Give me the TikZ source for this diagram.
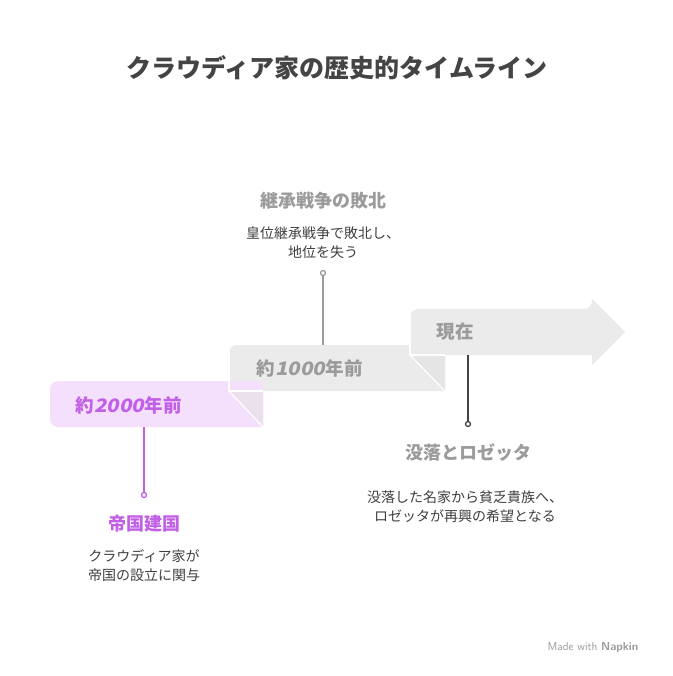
\documentclass[tikz,border=0pt]{standalone}
\usepackage{fontspec}
\setmainfont{Noto Sans CJK JP}
\newfontfamily\slantdigits[FakeSlant=0.2, FakeStretch=1.12]{Noto Sans CJK JP}
\tikzset{
    bandtext/.style={font=\bfseries\fontsize{18.5}{20}\selectfont, anchor=west},
    headtext/.style={font=\bfseries\fontsize{18}{20}\selectfont},
    desctext/.style={font=\fontsize{14}{19}\selectfont, align=center, text=black!75},
    stemdot/.style={circle, draw, line width=1.3pt, fill=white, inner sep=0pt, minimum size=5pt}
}
\definecolor{violetband}{HTML}{F4DFFC}
\definecolor{violetfold}{HTML}{EAE1EC}
\definecolor{violettext}{HTML}{C15FE6}
\definecolor{grayband}{HTML}{EBEBEB}
\definecolor{grayfold}{HTML}{E5E5E5}
\definecolor{graytext}{HTML}{9B9B9B}
\definecolor{darkstem}{HTML}{444444}
\begin{document}
\begin{tikzpicture}[x=1pt, y=-1pt]
    \useasboundingbox[fill=white] (0,0) rectangle (672,676);
    % title
    \node[font=\bfseries\fontsize{25}{28}\selectfont, text=darkstem] (title) at (337,68) {クラウディア家の歴史的タイムライン};
    % bands, back to front
        \fill[grayband] (410,318) [rounded corners=8pt] -- (410,309) -- (592,309) [sharp corners] -- (592,299) -- (625,332) -- (592,365) -- (592,355) -- (410,355) -- cycle;
        \fill[grayband] (229,354) [rounded corners=8pt] -- (229,345) -- (445,345) [sharp corners] -- (445,391) -- (229,391) -- cycle;
        \fill[grayfold] (410,355) -- (445,355) -- (445,391) -- cycle;
        \draw[white, line width=1.2pt] (410,355) -- (445,391);
        \draw[white, line width=1.2pt] (410,309) -- (410,355) -- (445,355);
        \fill[violetband] (50,390) [rounded corners=8pt] -- (50,381) -- (263,381) [sharp corners] -- (263,427) [rounded corners=8pt] -- (50,427) -- cycle;
        \fill[violetfold] (229,391) -- (263,391) -- (263,427) -- cycle;
        \draw[white, line width=1.2pt] (229,391) -- (263,427);
        \draw[white, line width=1.2pt] (229,345) -- (229,391) -- (263,391);
    \node[bandtext, text=violettext] (b2000) at (72,405) {約{\slantdigits 2000}年前};
    \node[bandtext, text=graytext] (b1000) at (253,368) {約{\slantdigits 1000}年前};
    \node[bandtext, text=graytext] (bnow) at (433,332) {現在};
    % stems
    \coordinate (s1) at (144,427);
    \node[stemdot, draw=violettext] (d1) at (144,495) {};
    \draw[violettext, line width=1.3pt] (s1) -- (d1);
    \coordinate (s2) at (323,345);
    \node[stemdot, draw=graytext] (d2) at (323,273) {};
    \draw[graytext, line width=1.3pt] (s2) -- (d2);
    \coordinate (s3) at (468,355);
    \node[stemdot, draw=darkstem] (d3) at (468,424) {};
    \draw[darkstem, line width=1.3pt] (s3) -- (d3);
    % events
    \node[headtext, text=violettext] (e1) at (144,524) {帝国建国};
    \node[desctext] (t1) at (144,566) {クラウディア家が\\帝国の設立に関与};
    \node[headtext, text=graytext] (e2) at (323,201) {継承戦争の敗北};
    \node[desctext] (t2) at (323,243) {皇位継承戦争で敗北し、\\地位を失う};
    \node[headtext, text=graytext] (e3) at (468,453) {没落とロゼッタ};
    \node[desctext] (t3) at (465,507) {没落した名家から貧乏貴族へ、\\ロゼッタが再興の希望となる};
    % footer
    \node[font=\sffamily\fontsize{11.5}{13}\selectfont, text=graytext] (made) at (593,648) {Made with \textbf{Napkin}};
\end{tikzpicture}
\end{document}
